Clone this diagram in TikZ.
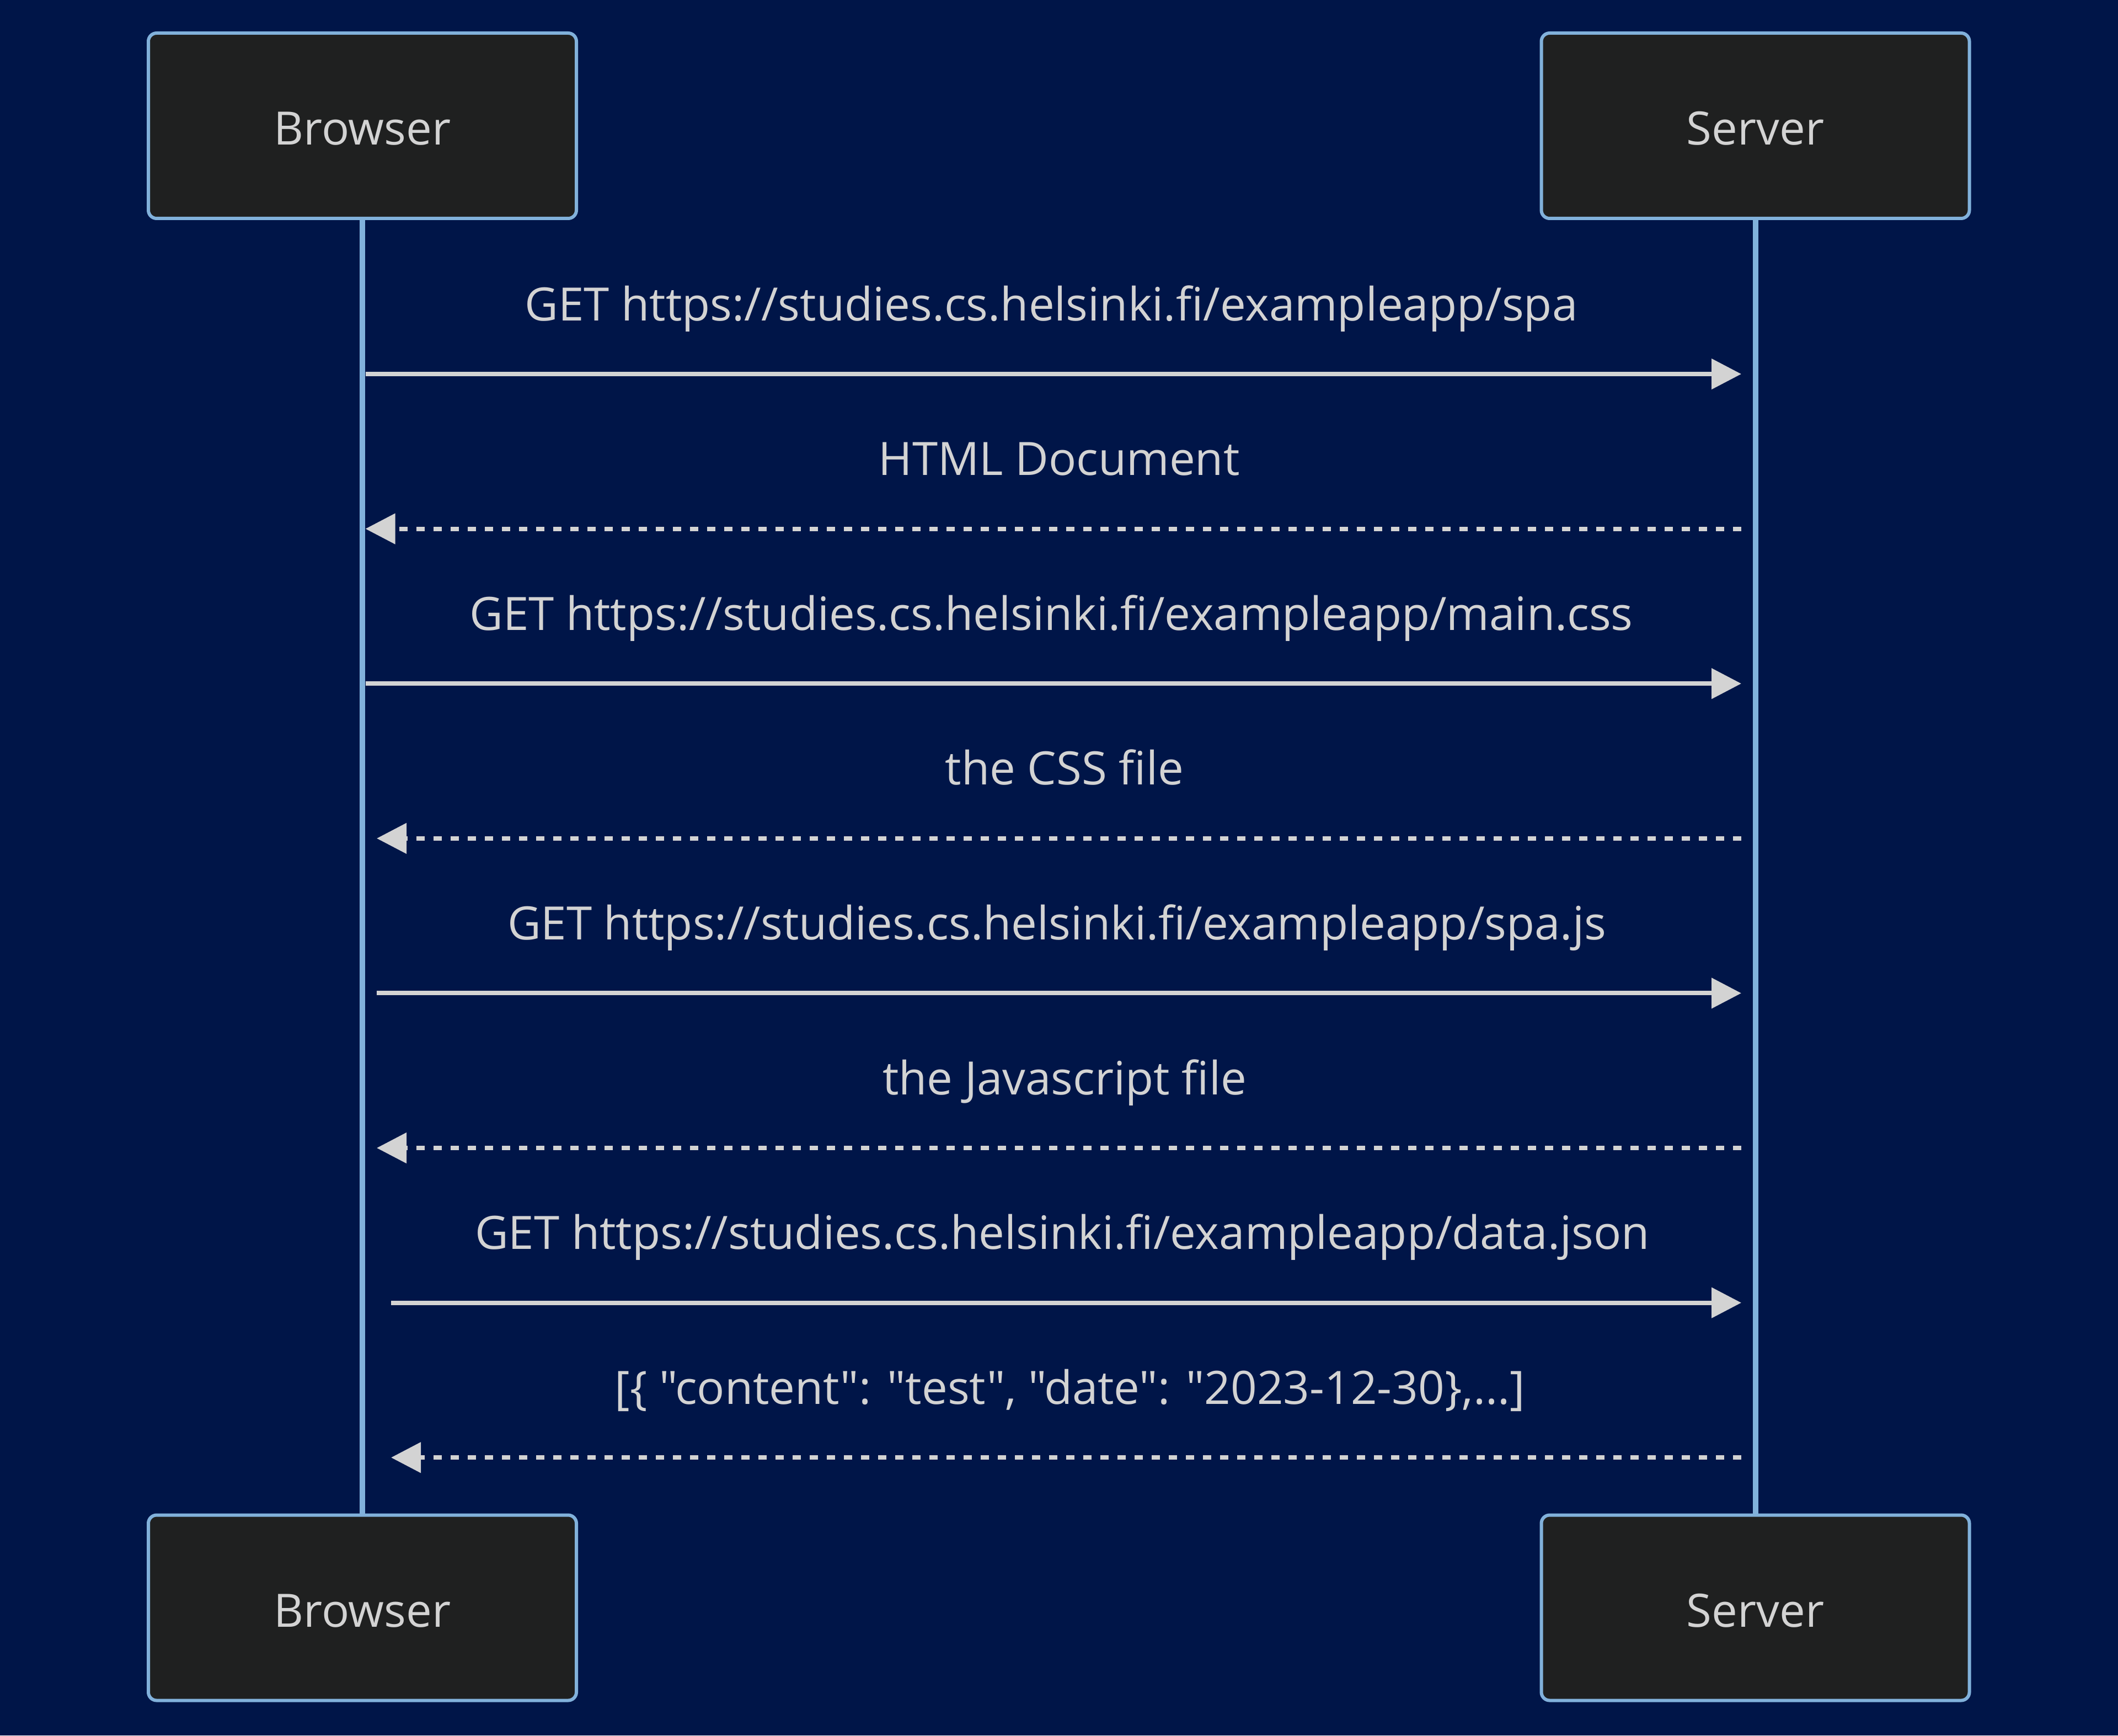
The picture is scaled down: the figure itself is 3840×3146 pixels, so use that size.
\documentclass[tikz,border=0pt]{standalone}
\usepackage{fontspec}
\setmainfont{Open Sans}[Ligatures=TeXOff]
\usetikzlibrary{arrows.meta}
\definecolor{bg}{RGB}{0,21,72}
\definecolor{boxfill}{RGB}{31,32,32}
\definecolor{boxline}{RGB}{129,177,219}
\definecolor{msgcol}{RGB}{211,211,211}
\begin{document}
\begin{tikzpicture}[x=0.25pt,y=-0.25pt,
  actor/.style={draw=boxline, line width=1.5pt, fill=boxfill, rounded corners=3.75pt,
    minimum width=194pt, minimum height=84pt, inner sep=0pt, text=msgcol,
    text height=17.3pt, text depth=0pt,
    font=\fontsize{20.85pt}{25pt}\selectfont},
  lifeline/.style={draw=boxline, line width=2.5pt},
  req/.style={draw=msgcol, line width=2pt, -{Triangle[length=13.5pt,width=13.5pt]}},
  resp/.style={req, dash pattern=on 3.875pt off 3.875pt},
  lbl/.style={text=msgcol, anchor=base, inner sep=0pt, font=\fontsize{20.85pt}{25pt}\selectfont}]
\useasboundingbox[fill=bg] (0,0) rectangle (3840,3146);
% actors
\node[actor] (bt) at (657,228) {Browser};
\node[actor] (st) at (3182.5,228) {Server};
\node[actor] (bb) at (657,2914.5) {Browser};
\node[actor] (sb) at (3182.5,2914.5) {Server};
% lifelines
\draw[lifeline] (bt.south) -- (bb.north);
\draw[lifeline] (st.south) -- (sb.north);
% message end points
\coordinate (m1L) at (662.5,678);    \coordinate (m1R) at (3157,678);
\coordinate (m2L) at (662.5,958.6);  \coordinate (m2R) at (3157,958.6);
\coordinate (m3L) at (662.5,1239.2); \coordinate (m3R) at (3157,1239.2);
\coordinate (m4L) at (683,1519.8);   \coordinate (m4R) at (3157,1519.8);
\coordinate (m5L) at (683,1800.4);   \coordinate (m5R) at (3157,1800.4);
\coordinate (m6L) at (683,2081);     \coordinate (m6R) at (3157,2081);
\coordinate (m7L) at (709,2361.6);   \coordinate (m7R) at (3157,2361.6);
\coordinate (m8L) at (709,2642.2);   \coordinate (m8R) at (3157,2642.2);
% messages
\draw[req]  (m1L) -- (m1R);
\draw[resp] (m2R) -- (m2L);
\draw[req]  (m3L) -- (m3R);
\draw[resp] (m4R) -- (m4L);
\draw[req]  (m5L) -- (m5R);
\draw[resp] (m6R) -- (m6L);
\draw[req]  (m7L) -- (m7R);
\draw[resp] (m8R) -- (m8L);
% labels
\node[lbl] (l1) at (1906,581)    {GET https://studies.cs.helsinki.fi/exampleapp/spa};
\node[lbl] (l2) at (1920,861.6)  {HTML Document};
\node[lbl] (l3) at (1906,1142.2) {GET https://studies.cs.helsinki.fi/exampleapp/main.css};
\node[lbl] (l4) at (1930,1422.8) {the CSS file};
\node[lbl] (l5) at (1916,1703.4) {GET https://studies.cs.helsinki.fi/exampleapp/spa.js};
\node[lbl] (l6) at (1930,1984)   {the Javascript file};
\node[lbl] (l7) at (1926,2264.6) {GET https://studies.cs.helsinki.fi/exampleapp/data.json};
\node[lbl] (l8) at (1940,2545.2) {[\{ "content": "test", "date": "2023-12-30\},...]};
\end{tikzpicture}
\end{document}
